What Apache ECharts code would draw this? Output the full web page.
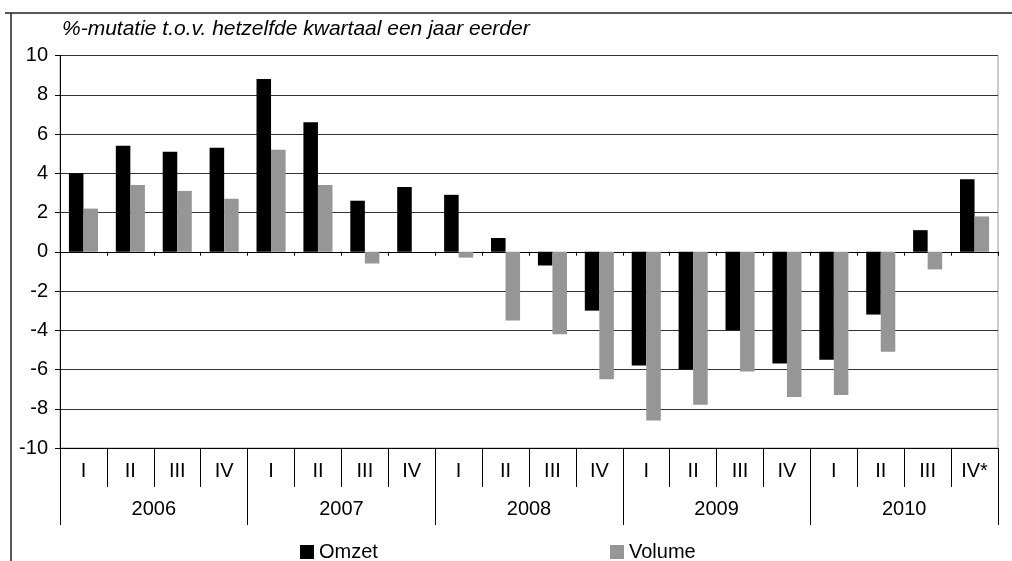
<!DOCTYPE html>
<html><head><meta charset="utf-8">
<script src="https://cdn.jsdelivr.net/npm/echarts@6/dist/echarts.min.js"></script>
<style>html,body{margin:0;padding:0;background:#fff}#c{width:1012px;height:561px}</style>
</head><body><div id="c"></div>
<script>
const quarters = ['I','II','III','IV','I','II','III','IV','I','II','III','IV','I','II','III','IV','I','II','III','IV*'];
const years = ['2006','2007','2008','2009','2010'];
const omzet = [4.0,5.4,5.1,5.3,8.8,6.6,2.6,3.3,2.9,0.7,-0.7,-3.0,-5.8,-6.0,-4.0,-5.7,-5.5,-3.2,1.1,3.7];
const volume = [2.2,3.4,3.1,2.7,5.2,3.4,-0.6,0,-0.3,-3.5,-4.2,-6.5,-8.6,-7.8,-6.1,-7.4,-7.3,-5.1,-0.9,1.8];
const yTicks = {min:-10, max:10, interval:2};
const subtitle = '%-mutatie t.o.v. hetzelfde kwartaal een jaar eerder';

const FONT = '"Liberation Sans", Arial, sans-serif';
const chart = echarts.init(document.getElementById('c'), null, {renderer:'canvas'});
chart.setOption({
  animation:false,
  textStyle:{fontFamily:FONT},
  title:{text:subtitle, left:57, top:14, textStyle:{fontFamily:FONT, fontStyle:'italic', fontWeight:'normal', fontSize:21, color:'#000'}},
  legend:[
    {data:['Omzet'], left:295, top:537, icon:'rect', itemWidth:14, itemHeight:14, itemGap:5, textStyle:{fontSize:20, color:'#000', fontFamily:FONT}},
    {data:['Volume'], left:605, top:537, icon:'rect', itemWidth:14, itemHeight:14, itemGap:5, textStyle:{fontSize:20, color:'#000', fontFamily:FONT}}
  ],
  grid:{left:60, right:14, top:55.5, bottom:113, show:true, borderColor:'#999', borderWidth:1},
  xAxis:[
    {type:'category', data:quarters, position:'bottom', axisLine:{onZero:true, lineStyle:{color:'#000', width:1}},
     axisTick:{show:true, interval:0, length:4, lineStyle:{color:'#000'}}, axisLabel:{show:false}, splitLine:{show:false}},
    {type:'category', data:quarters, position:'bottom', axisLine:{onZero:false, lineStyle:{color:'#000', width:1}},
     axisTick:{show:true, interval:0, length:39, lineStyle:{color:'#000'}},
     axisLabel:{interval:0, margin:13, fontSize:20, color:'#000', fontFamily:FONT}},
    {type:'category', data:years, position:'bottom', axisLine:{onZero:false, lineStyle:{color:'#000', width:1}},
     axisTick:{show:true, interval:0, length:77, lineStyle:{color:'#000'}},
     axisLabel:{interval:0, margin:51, fontSize:20, color:'#000', fontFamily:FONT}}
  ],
  yAxis:{type:'value', min:yTicks.min, max:yTicks.max, interval:yTicks.interval,
    axisLine:{show:true, lineStyle:{color:'#000'}}, axisTick:{show:true, length:5, lineStyle:{color:'#000'}},
    axisLabel:{fontSize:20, color:'#000', margin:12, fontFamily:FONT},
    splitLine:{lineStyle:{color:'#333', width:1}}},
  series:[
    {name:'Omzet', type:'bar', xAxisIndex:0, data:omzet, barWidth:'31%', barGap:'0%', itemStyle:{color:'#000'}},
    {name:'Volume', type:'bar', xAxisIndex:0, data:volume, barWidth:'31%', barGap:'0%', itemStyle:{color:'#969696'}}
  ],
  graphic:[
    {type:'line', shape:{x1:11, y1:13, x2:11, y2:561}, style:{stroke:'#222', lineWidth:1.5}},
    {type:'line', shape:{x1:5, y1:13, x2:1012, y2:13}, style:{stroke:'#222', lineWidth:1.5}}
  ]
});
</script></body></html>
